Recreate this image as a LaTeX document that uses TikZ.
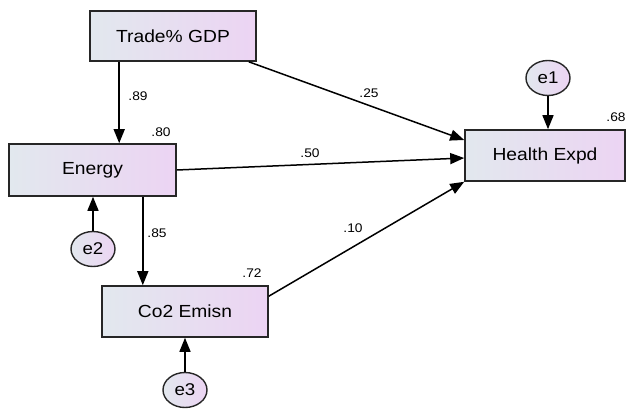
\documentclass[tikz,border=0pt]{standalone}
\usepackage{fontspec}
\setmainfont{Liberation Sans}[FakeStretch=1.1]
\usetikzlibrary{arrows.meta,shapes.geometric,calc}
\definecolor{gl}{RGB}{226,232,238}
\definecolor{gr}{RGB}{236,212,243}
\tikzset{
  var/.style={draw=black!85,line width=1.6pt,rectangle,left color=gl,right color=gr,
    font=\fontsize{17.5}{20}\selectfont,inner sep=0pt},
  err/.style={draw=black!85,line width=1.4pt,ellipse,left color=gl,right color=gr,
    minimum width=44pt,minimum height=35pt,inner sep=0pt,font=\fontsize{17}{20}\selectfont},
  arr/.style={line width=1.5pt,-{Triangle[length=14pt,width=11pt]}},
  lab/.style={font=\fontsize{12.5}{14}\selectfont,inner sep=0pt}
}
\begin{document}
\begin{tikzpicture}[x=1pt,y=-1pt]
\useasboundingbox (0,0) rectangle (626,412);
\node[var,minimum width=166pt,minimum height=50pt] (trade) at (173,36) {Trade\% GDP};
\node[var,minimum width=167pt,minimum height=52pt] (energy) at (92.5,170) {Energy};
\node[var,minimum width=166pt,minimum height=51pt] (co2) at (185,311.5) {Co2 Emisn};
\node[var,minimum width=160pt,minimum height=51pt] (health) at (545,155.5) {Health Expd};
\node[err] (e1) at (548,78) {e1};
\node[err] (e2) at (93,249) {e2};
\node[err] (e3) at (185,390) {e3};
% paths
\draw[arr] ([xshift=30pt]trade.south west) coordinate (a1) -- (a1 |- energy.north);
\draw[arr] ([xshift=-8pt]trade.south east) -- ([yshift=15.5pt]health.west);
\draw[arr] (energy.east) -- ([yshift=-2.5pt]health.west);
\draw[arr] ([yshift=-11pt]co2.north east) -- (health.south west);
\draw[arr] ([xshift=-34pt]energy.south east) coordinate (a2) -- (a2 |- co2.north);
\draw[arr] (e2.north) -- (e2.north |- energy.south);
\draw[arr] (e3.north) -- (e3.north |- co2.south);
\draw[arr] (e1.south) -- (e1.south |- health.north);
% labels
\node[lab] (l89) at (138,96) {.89};
\node[lab] (l80) at (161,132) {.80};
\node[lab] (l25) at (369,93) {.25};
\node[lab] (l50) at (310,153) {.50};
\node[lab] (l68) at (616,117) {.68};
\node[lab] (l85) at (157,233) {.85};
\node[lab] (l10) at (353,228) {.10};
\node[lab] (l72) at (252,273) {.72};
\end{tikzpicture}
\end{document}
